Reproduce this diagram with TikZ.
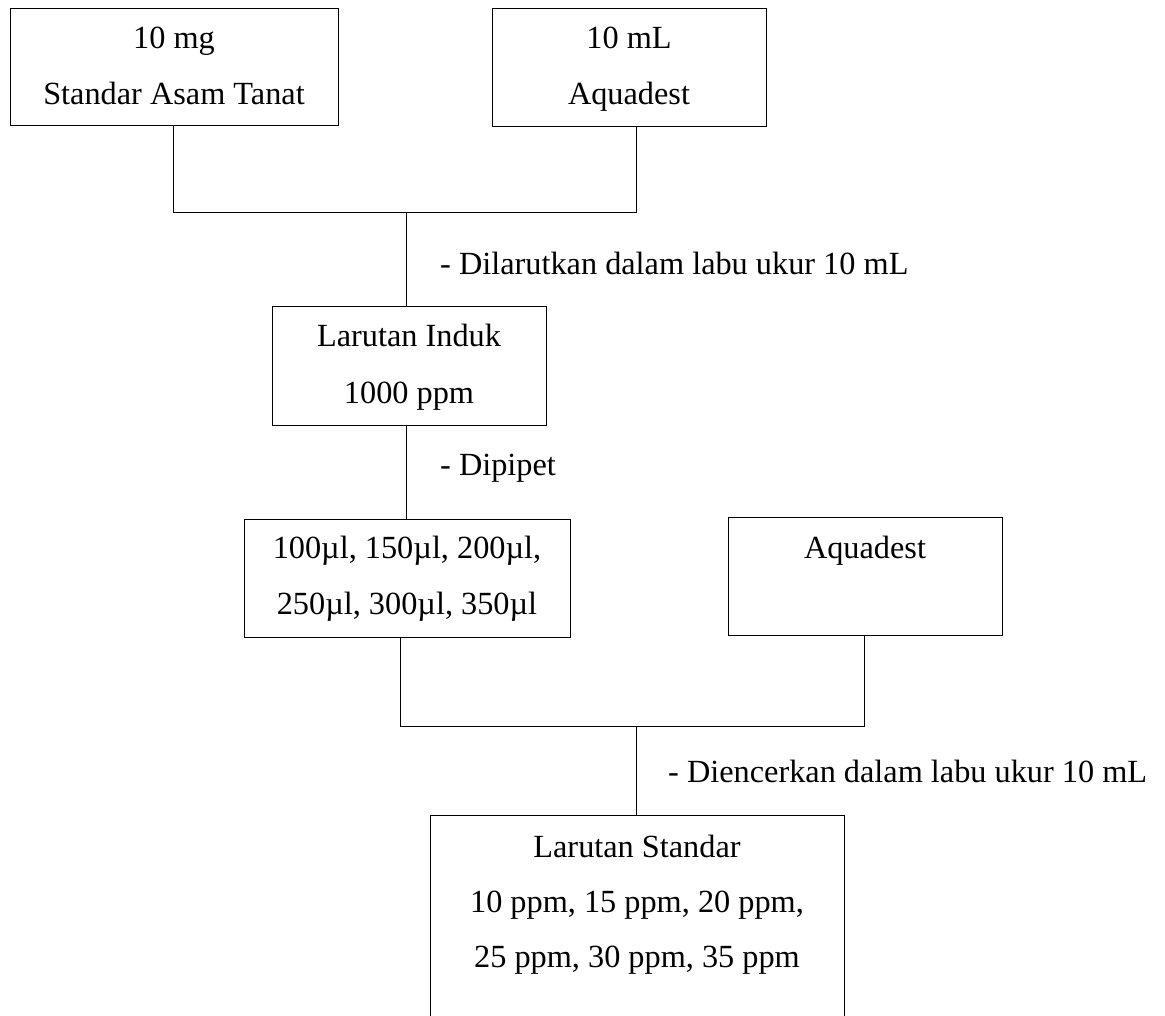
\documentclass[tikz,border=0pt]{standalone}
\usepackage{fontspec}
\setmainfont{Liberation Serif}
\begin{document}
\begin{tikzpicture}[x=1pt,y=-1pt,
  box/.style={draw,line width=1pt,inner sep=0pt,outer sep=0pt,anchor=north west},
  txt/.style={anchor=base,inner sep=0pt,font=\fontsize{32.3}{38}\selectfont},
  lbl/.style={anchor=base west,inner sep=0pt,font=\fontsize{32.3}{38}\selectfont},
  conn/.style={line width=1pt}]
\clip (0,0) rectangle (1165,1016);
\fill[white] (0,0) rectangle (1165,1016);
% boxes
\node[box,minimum width=328pt,minimum height=117pt] (A) at (10,9) {};
\node[box,minimum width=274pt,minimum height=118pt] (B) at (492,9) {};
\node[box,minimum width=274pt,minimum height=118pt] (C) at (272,307) {};
\node[box,minimum width=326pt,minimum height=118pt] (D) at (244,519) {};
\node[box,minimum width=274pt,minimum height=118pt] (E) at (728,517) {};
\node[box,minimum width=414pt,minimum height=230pt] (F) at (430,815) {};
% texts
\node[txt] (A1) at (174,49) {10 mg};
\node[txt] (A2) at (174,105) {Standar Asam Tanat};
\node[txt] (B1) at (629,49) {10 mL};
\node[txt] (B2) at (629,105) {Aquadest};
\node[txt] (C1) at (409,347) {Larutan Induk};
\node[txt] (C2) at (409,403) {1000 ppm};
\node[txt] (D1) at (407,558) {100µl, 150µl, 200µl,};
\node[txt] (D2) at (407,614) {250µl, 300µl, 350µl};
\node[txt] (E1) at (865,558) {Aquadest};
\node[txt] (F1) at (637,857) {Larutan Standar};
\node[txt] (F2) at (637,912) {10 ppm, 15 ppm, 20 ppm,};
\node[txt] (F3) at (637,967) {25 ppm, 30 ppm, 35 ppm};
% labels
\node[lbl] (L1) at (440,275) {- Dilarutkan dalam labu ukur 10 mL};
\node[lbl] (L2) at (440,475) {- Dipipet};
\node[lbl] (L3) at (668,782) {- Diencerkan dalam labu ukur 10 mL};
% junctions
\coordinate (m1) at (636,213);
\coordinate (m2) at (400,726);
\coordinate (a1) at (173,126);
\coordinate (b1) at (636,127);
\coordinate (c1) at (406,307);
\coordinate (c2) at (406,425);
\coordinate (d1) at (406,519);
\coordinate (d2) at (400,637);
\coordinate (e1) at (864,635);
\coordinate (f1) at (636,815);
% connectors
\draw[conn] (a1) |- (m1) -- (b1);
\draw[conn] (c1 |- m1) -- (c1);
\draw[conn] (c2) -- (d1);
\draw[conn] (d2) -- (m2) -| (e1);
\draw[conn] (f1 |- m2) -- (f1);
\end{tikzpicture}
\end{document}
